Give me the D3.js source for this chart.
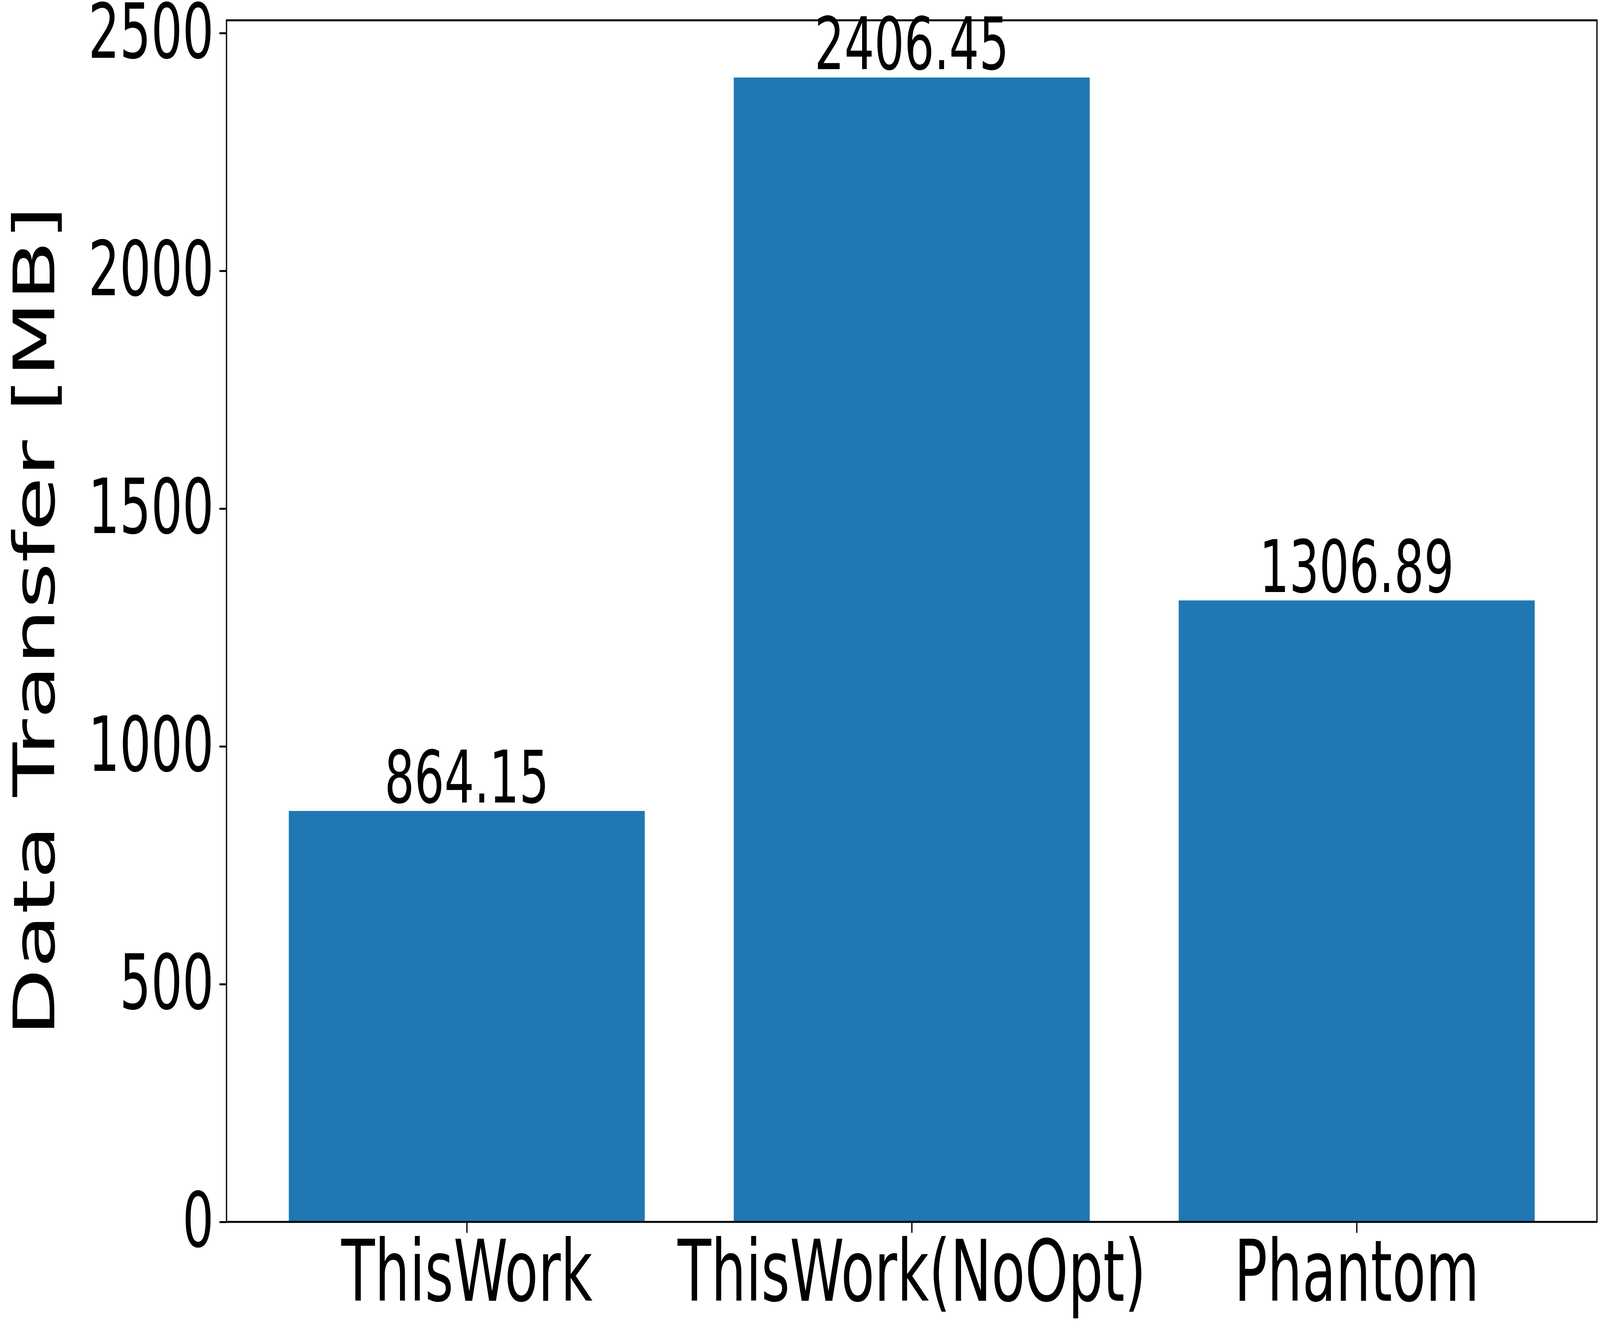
<!DOCTYPE html>
<html>
<head>
<meta charset="utf-8">
<script src="https://cdn.jsdelivr.net/npm/d3@7"></script>
<style>
  html, body { margin: 0; padding: 0; background: white; overflow: hidden; }
  svg { display: block; width: 100vw; height: 100vh; }
  text { font-family: "DejaVu Sans", sans-serif; fill: black; }
</style>
</head>
<body>
<div id="chart"></div>
<script>
// chart data
const categories = ["ThisWork", "ThisWork(NoOpt)", "Phantom"];
const values = [864.15, 2406.45, 1306.89];
const yTicks = [0, 500, 1000, 1500, 2000, 2500];

const width = 6322;
const height = 3393;
const margin = { top: 52, left: 895, right: 12, bottom: 264 };

// fixed coordinate system scaled to whatever the window is
const svg = d3.select("#chart")
  .append("svg")
  .attr("viewBox", `0 0 ${width} ${height}`)
  .attr("preserveAspectRatio", "none");

// matplotlib-style limits: bars at 0..n-1 width 0.8, 5% margins
const xScale = d3.scaleLinear()
  .domain([-0.54, categories.length - 1 + 0.54])
  .range([margin.left, width - margin.right]);

const yScale = d3.scaleLinear()
  .domain([0, d3.max(values) * 1.05])
  .range([height - margin.bottom, margin.top]);

svg.selectAll("rect")
  .data(values)
  .enter()
  .append("rect")
  .attr("x", (d, i) => xScale(i - 0.4))
  .attr("width", xScale(0.8) - xScale(0))
  .attr("y", d => yScale(d))
  .attr("height", d => yScale(0) - yScale(d))
  .attr("fill", "#1f77b4");

// frame
svg.append("rect")
  .attr("x", margin.left)
  .attr("y", margin.top)
  .attr("width", width - margin.right - margin.left)
  .attr("height", height - margin.bottom - margin.top)
  .attr("fill", "none")
  .attr("stroke", "black")
  .attr("stroke-width", 5);

// value labels (drawn over the frame, with white behind like matplotlib)
svg.selectAll(".barLabel")
  .data(values)
  .enter()
  .append("text")
  .attr("class", "barLabel")
  .attr("x", (d, i) => xScale(i))
  .attr("y", d => yScale(d) - 22)
  .attr("text-anchor", "middle")
  .attr("font-size", 186)
  .text(d => d.toFixed(2));

const yAxis = svg.append("g")
  .attr("transform", `translate(${margin.left},0)`)
  .call(d3.axisLeft(yScale).tickValues(yTicks).tickFormat(d3.format("d"))
    .tickSize(28).tickPadding(22));
yAxis.select(".domain").remove();
yAxis.selectAll("line").attr("stroke-width", 5);
yAxis.selectAll("text").attr("font-size", 195).attr("font-family", "DejaVu Sans");

const xAxis = svg.append("g")
  .attr("transform", `translate(0,${height - margin.bottom})`)
  .call(d3.axisBottom(xScale).tickValues(d3.range(categories.length))
    .tickFormat(i => categories[i]).tickSize(28).tickPadding(20));
xAxis.select(".domain").remove();
xAxis.selectAll("line").attr("stroke-width", 5);
xAxis.selectAll("text").attr("font-size", 217).attr("font-family", "DejaVu Sans");

svg.append("text")
  .attr("x", -(margin.top + (height - margin.bottom - margin.top) / 2))
  .attr("y", 215)
  .attr("text-anchor", "middle")
  .attr("transform", "rotate(-90)")
  .attr("font-size", 227)
  .text("Data Transfer [MB]");
</script>
</body>
</html>
